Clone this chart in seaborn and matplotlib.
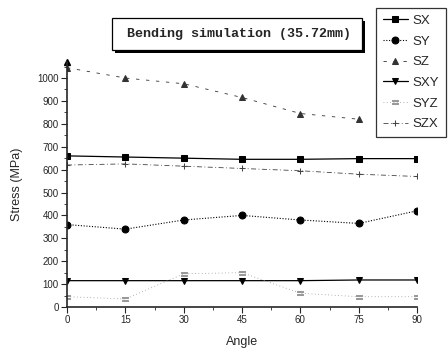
import numpy as np
import pandas as pd
import seaborn as sns
import matplotlib
matplotlib.use("Agg")
from matplotlib import pyplot as plt
from matplotlib.ticker import MultipleLocator

angles = [0, 15, 30, 45, 60, 75, 90]
sx = [660, 655, 650, 645, 645, 648, 648]
sy = [360, 340, 380, 400, 380, 365, 420]
sz = [1045, 1000, 975, 915, 845, 820, np.nan]
sxy = [115, 115, 115, 115, 115, 118, 118]
syz = [45, 35, 145, 150, 60, 45, 45]
szx = [620, 625, 615, 605, 595, 580, 570]

series = ["SX", "SY", "SZ", "SXY", "SYZ", "SZX"]
values = [sx, sy, sz, sxy, syz, szx]

df = pd.DataFrame({"Angle": angles * len(series),
                   "Stress": sum(values, []),
                   "series": np.repeat(series, len(angles))})

sns.set_style("ticks")
plt.rcParams["font.family"] = ["Liberation Sans", "DejaVu Sans"]

# stile per ogni serie
styles = {
    "SX":  dict(color="black", marker="s", ls="-", lw=0.9, ms=5),
    "SY":  dict(color="black", marker="o", ls=(0, (1, 1.5)), lw=0.8, ms=5),
    "SZ":  dict(color="#333333", marker="^", ls=(0, (4, 8)), lw=0.6, ms=4),
    "SXY": dict(color="black", marker="v", ls="-", lw=0.9, ms=5),
    "SYZ": dict(color="#999999", marker="$=$", ls=(0, (1, 3)), lw=0.6, ms=5),
    "SZX": dict(color="#444444", marker="+", ls=(0, (6, 3, 1, 3)), lw=0.6, ms=5),
}

W, H = 448, 349
fig = plt.figure(figsize=(W / 100, H / 100), dpi=100)
ax = fig.add_axes([67 / W, 1 - 307 / H, 350 / W, 245 / H])

for name in series:
    st = styles[name]
    sns.lineplot(data=df[df["series"] == name], x="Angle", y="Stress", ax=ax,
                 color=st["color"], marker=st["marker"], linestyle=st["ls"],
                 linewidth=st["lw"], markersize=st["ms"], markeredgecolor=st["color"],
                 label=name)

ax.set_xlim(0, 90)
ax.set_ylim(0, 1070)
ax.set_xticks(angles)
ax.xaxis.set_minor_locator(MultipleLocator(7.5))
ax.set_yticks(range(0, 1001, 100))
ax.yaxis.set_minor_locator(MultipleLocator(50))
ax.tick_params(labelsize=7, length=4, width=0.8, direction="out", pad=2)
ax.tick_params(which="minor", length=2, width=0.6)
ax.spines["top"].set_visible(False)
ax.spines["right"].set_visible(False)
ax.spines["left"].set_linewidth(1.2)
ax.spines["bottom"].set_linewidth(1.2)
ax.plot(0, 1, marker="^", color="black", ms=4, transform=ax.transAxes, clip_on=False)
ax.set_xlabel("Angle", fontsize=9, labelpad=8)
ax.set_ylabel("Stress (MPa)", fontsize=9, labelpad=10)

leg = ax.legend(loc="upper right", bbox_to_anchor=(446 / W, 1 - 8 / H),
                bbox_transform=fig.transFigure, frameon=True, fancybox=False,
                edgecolor="black", fontsize=9.5, handlelength=1.9,
                labelspacing=0.64, borderpad=0.5, handletextpad=0.4,
                borderaxespad=0)
leg.get_frame().set_linewidth(0.9)

# riquadro del titolo con ombra
shadow = plt.Rectangle((115 / W, 1 - 53 / H), 250 / W, 32 / H, fc="black", ec="none",
                       transform=fig.transFigure, zorder=1)
box = plt.Rectangle((112 / W, 1 - 50 / H), 250 / W, 32 / H, fc="white", ec="black",
                    lw=0.9, transform=fig.transFigure, zorder=2)
fig.patches.extend([shadow, box])
fig.text(239 / W, 1 - 34 / H, "Bending simulation (35.72mm)", ha="center", va="center",
         fontsize=9.6, fontweight="bold", family="Liberation Mono", zorder=3)

fig.savefig("out.png", dpi=100)
